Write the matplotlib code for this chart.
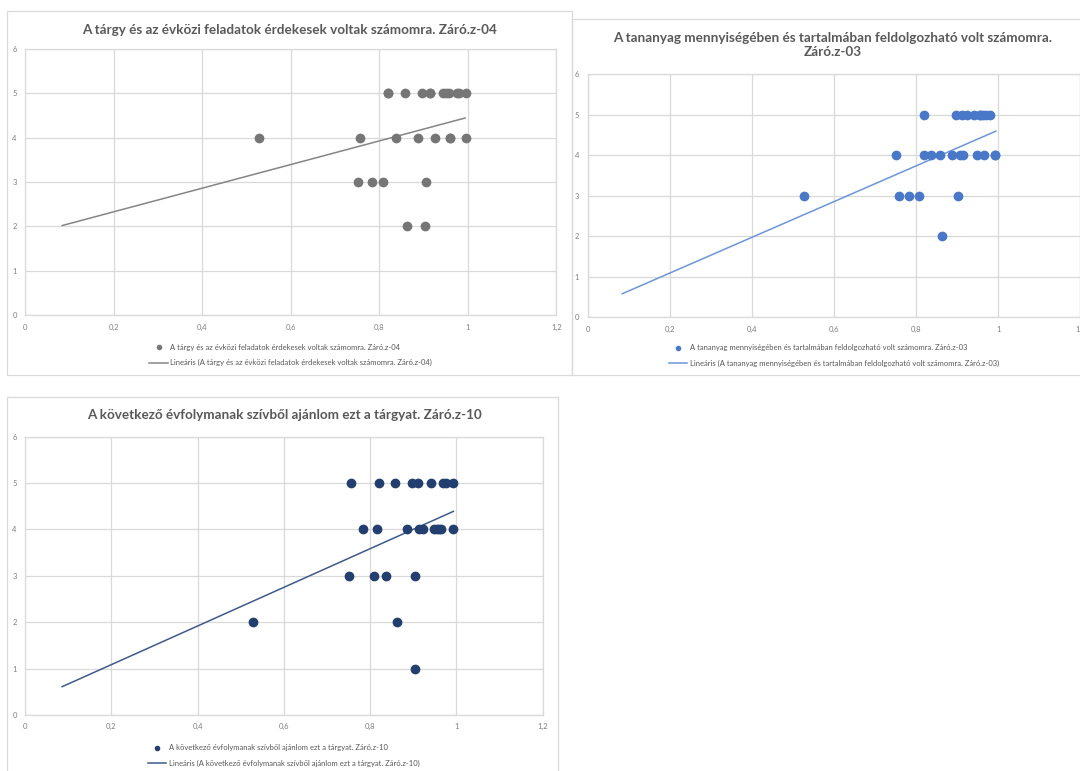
import matplotlib.pyplot as plt
from matplotlib.patches import Rectangle

plt.rcParams['font.family'] = ['Lato', 'DejaVu Sans']

W, H = 1080, 771

# x values / answer values
c1_x = [0.820, 0.820, 0.858, 0.897, 0.914, 0.914, 0.943, 0.952, 0.957, 0.976, 0.980, 0.995,
        0.528, 0.757, 0.838, 0.887, 0.926, 0.961, 0.961, 0.995,
        0.753, 0.784, 0.809, 0.906,
        0.863, 0.904]
c1_y = [5, 5, 5, 5, 5, 5, 5, 5, 5, 5, 5, 5,
        4, 4, 4, 4, 4, 4, 4, 4,
        3, 3, 3, 3,
        2, 2]
c1_trend_x = [0.084, 0.994]
c1_trend_y = [2.02, 4.44]

c2_x = [0.818, 0.896, 0.911, 0.924, 0.942, 0.956, 0.956, 0.963, 0.971, 0.979,
        0.752, 0.820, 0.836, 0.857, 0.887, 0.906, 0.915, 0.949, 0.964, 0.993, 0.993,
        0.528, 0.757, 0.783, 0.808, 0.902,
        0.863]
c2_y = [5, 5, 5, 5, 5, 5, 5, 5, 5, 5,
        4, 4, 4, 4, 4, 4, 4, 4, 4, 4, 4,
        3, 3, 3, 3, 3,
        2]
c2_trend_x = [0.084, 0.994]
c2_trend_y = [0.58, 4.59]

c3_x = [0.756, 0.820, 0.857, 0.896, 0.910, 0.941, 0.969, 0.976, 0.992,
        0.784, 0.817, 0.886, 0.913, 0.923, 0.949, 0.955, 0.959, 0.964, 0.992,
        0.752, 0.809, 0.837, 0.903,
        0.528, 0.862,
        0.904]
c3_y = [5, 5, 5, 5, 5, 5, 5, 5, 5,
        4, 4, 4, 4, 4, 4, 4, 4, 4, 4,
        3, 3, 3, 3,
        2, 2,
        1]
c3_trend_x = [0.086, 0.993]
c3_trend_y = [0.61, 4.39]

x_ticks = [0, 0.2, 0.4, 0.6, 0.8, 1.0, 1.2]
x_tick_labels = ['0', '0,2', '0,4', '0,6', '0,8', '1', '1,2']
y_ticks = [0, 1, 2, 3, 4, 5, 6]

titles = ['A tárgy és az évközi feladatok érdekesek voltak számomra. Záró.z-04',
          'A tananyag mennyiségében és tartalmában feldolgozható volt számomra.\nZáró.z-03',
          'A következő évfolymanak szívből ajánlom ezt a tárgyat. Záró.z-10']
series_names = ['A tárgy és az évközi feladatok érdekesek voltak számomra. Záró.z-04',
                'A tananyag mennyiségében és tartalmában feldolgozható volt számomra. Záró.z-03',
                'A következő évfolymanak szívből ajánlom ezt a tárgyat. Záró.z-10']

GRID = '#d9d9d9'
TXT = '#595959'


def px_rect(x0, y0, x1, y1):
    # pixel box (top-left origin) -> figure fraction rect
    return [x0 / W, 1 - y1 / H, (x1 - x0) / W, (y1 - y0) / H]


def draw_chart(fig, box, frame, xs, ys, tx, ty, dot_color, line_color, name, title, title_xy):
    fig.add_artist(Rectangle((frame[0], frame[1]), frame[2], frame[3], transform=fig.transFigure,
                             fill=False, ec=GRID, lw=0.9))
    ax = fig.add_axes(box)
    ax.scatter(xs, ys, s=36, color=dot_color, zorder=3, label=name)
    ax.plot(tx, ty, color=line_color, lw=1.1, zorder=2, label='Lineáris (' + name + ')')

    ax.set_xlim(0, 1.2)
    ax.set_ylim(0, 6)
    ax.set_xticks(x_ticks, labels=x_tick_labels)
    ax.set_yticks(y_ticks)
    ax.grid(True, color=GRID, lw=0.9)
    ax.set_axisbelow(True)
    for s in ax.spines.values():
        s.set_color(GRID)
        s.set_linewidth(0.9)
    ax.tick_params(length=0, labelsize=5.5, labelcolor='#7f7f7f', pad=6)

    ax.legend(loc='upper center', bbox_to_anchor=(0.5, -0.08), ncol=1, frameon=False,
              fontsize=5.5, labelcolor=TXT, handlelength=2.4, handletextpad=0.3,
              labelspacing=1.15, markerscale=0.5)

    fig.text(title_xy[0] / W, 1 - title_xy[1] / H, title, ha='center', va='center',
             fontsize=9.7, fontweight='bold', color=TXT, linespacing=1.3)
    return ax


fig = plt.figure(figsize=(W / 100, H / 100), dpi=100)

draw_chart(fig, px_rect(25, 48.7, 556.3, 315.3), px_rect(7.3, 11, 571.5, 375),
           c1_x, c1_y, c1_trend_x, c1_trend_y, '#767676', '#858585',
           series_names[0], titles[0], (289, 30))

draw_chart(fig, px_rect(587.7, 74, 1080.4, 317.3), px_rect(572, 19, 1090, 375),
           c2_x, c2_y, c2_trend_x, c2_trend_y, '#4A78C8', '#6C95DA',
           series_names[1], titles[1], (833, 45))

draw_chart(fig, px_rect(25, 436.7, 542.7, 715), px_rect(7.3, 397, 558.3, 780),
           c3_x, c3_y, c3_trend_x, c3_trend_y, '#223F70', '#3E5A8C',
           series_names[2], titles[2], (284, 415))

fig.savefig('out.png', dpi=100)
